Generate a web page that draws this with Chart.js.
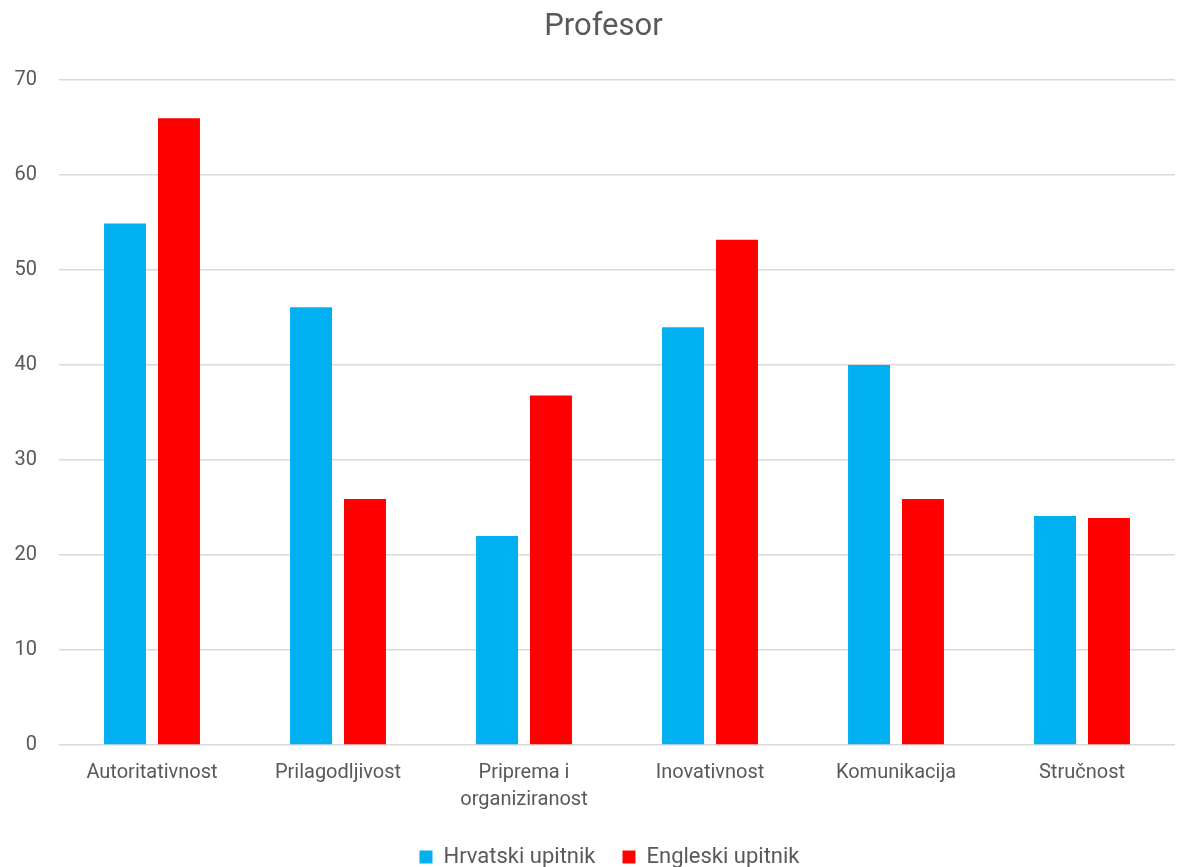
<!DOCTYPE html>
<html>
<head>
<meta charset="utf-8">
<script src="https://cdn.jsdelivr.net/npm/chart.js@4/dist/chart.umd.min.js"></script>
<style>
  html, body { margin: 0; padding: 0; background: #fff; }
  #wrap { width: 1177px; height: 867px; }
</style>
</head>
<body>
<div id="wrap"><canvas id="profChart"></canvas></div>
<script>
const categories = ['Autoritativnost', 'Prilagodljivost', ['Priprema i', 'organiziranost'], 'Inovativnost', 'Komunikacija', 'Stručnost'];
const hrvatskiValues = [54.9, 46.1, 22.0, 44.0, 40.0, 24.1];
const engleskiValues = [66.0, 25.9, 36.8, 53.2, 25.9, 23.9];
const seriesNames = ['Hrvatski upitnik', 'Engleski upitnik'];
const yTicks = [0, 10, 20, 30, 40, 50, 60, 70];

const textColor = '#595959';
const gridColor = '#d9d9d9';
const fontFamily = 'Roboto, "Liberation Sans", sans-serif';

// legend keeps wide item spacing but takes less height; title and legend sit a bit right of centre
const layoutTweaks = {
    id: 'layoutTweaks',
    beforeInit(chart) {
        const legend = chart.legend;
        if (!legend) return;
        const origFit = legend.fit.bind(legend);
        legend.fit = function () {
            origFit();
            this.height -= 11;
        };
    },
    afterLayout(chart) {
        if (chart.titleBlock) chart.titleBlock.left += 22;
        if (chart.legend) chart.legend.left += 34;
    }
};

const ctx = document.getElementById('profChart');
const myChart = new Chart(ctx, {
    type: 'bar',
    data: {
        labels: categories,
        datasets: [{
            label: seriesNames[0],
            data: hrvatskiValues,
            backgroundColor: '#00b0f0',
            barPercentage: 0.778,
            categoryPercentage: 0.58
        }, {
            label: seriesNames[1],
            data: engleskiValues,
            backgroundColor: '#ff0000',
            barPercentage: 0.778,
            categoryPercentage: 0.58
        }]
    },
    plugins: [layoutTweaks],
    options: {
        responsive: true,
        maintainAspectRatio: false,
        animation: false,
        layout: {
            padding: { left: 10, right: 2, top: 0, bottom: 0 }
        },
        scales: {
            y: {
                min: 0,
                max: 70,
                border: { display: false },
                grid: {
                    color: gridColor,
                    lineWidth: 1.5,
                    drawTicks: false
                },
                afterBuildTicks: function (axis) {
                    axis.ticks = yTicks.map(v => ({ value: v }));
                },
                afterFit: function (axis) {
                    axis.width = 49;
                },
                ticks: {
                    color: textColor,
                    padding: 22,
                    font: { family: fontFamily, size: 20 }
                }
            },
            x: {
                border: { display: false },
                grid: { display: false },
                ticks: {
                    color: textColor,
                    padding: 6,
                    maxRotation: 0,
                    autoSkip: false,
                    font: { family: fontFamily, size: 20, lineHeight: 1.35 }
                }
            }
        },
        plugins: {
            title: {
                display: true,
                text: 'Profesor',
                color: textColor,
                font: { family: fontFamily, size: 31, weight: 'normal' },
                padding: { top: 9, bottom: 34 }
            },
            legend: {
                position: 'bottom',
                labels: {
                    color: textColor,
                    boxWidth: 13,
                    boxHeight: 13,
                    padding: 27,
                    font: { family: fontFamily, size: 22 }
                }
            },
            tooltip: { enabled: false }
        }
    }
});
</script>
</body>
</html>
